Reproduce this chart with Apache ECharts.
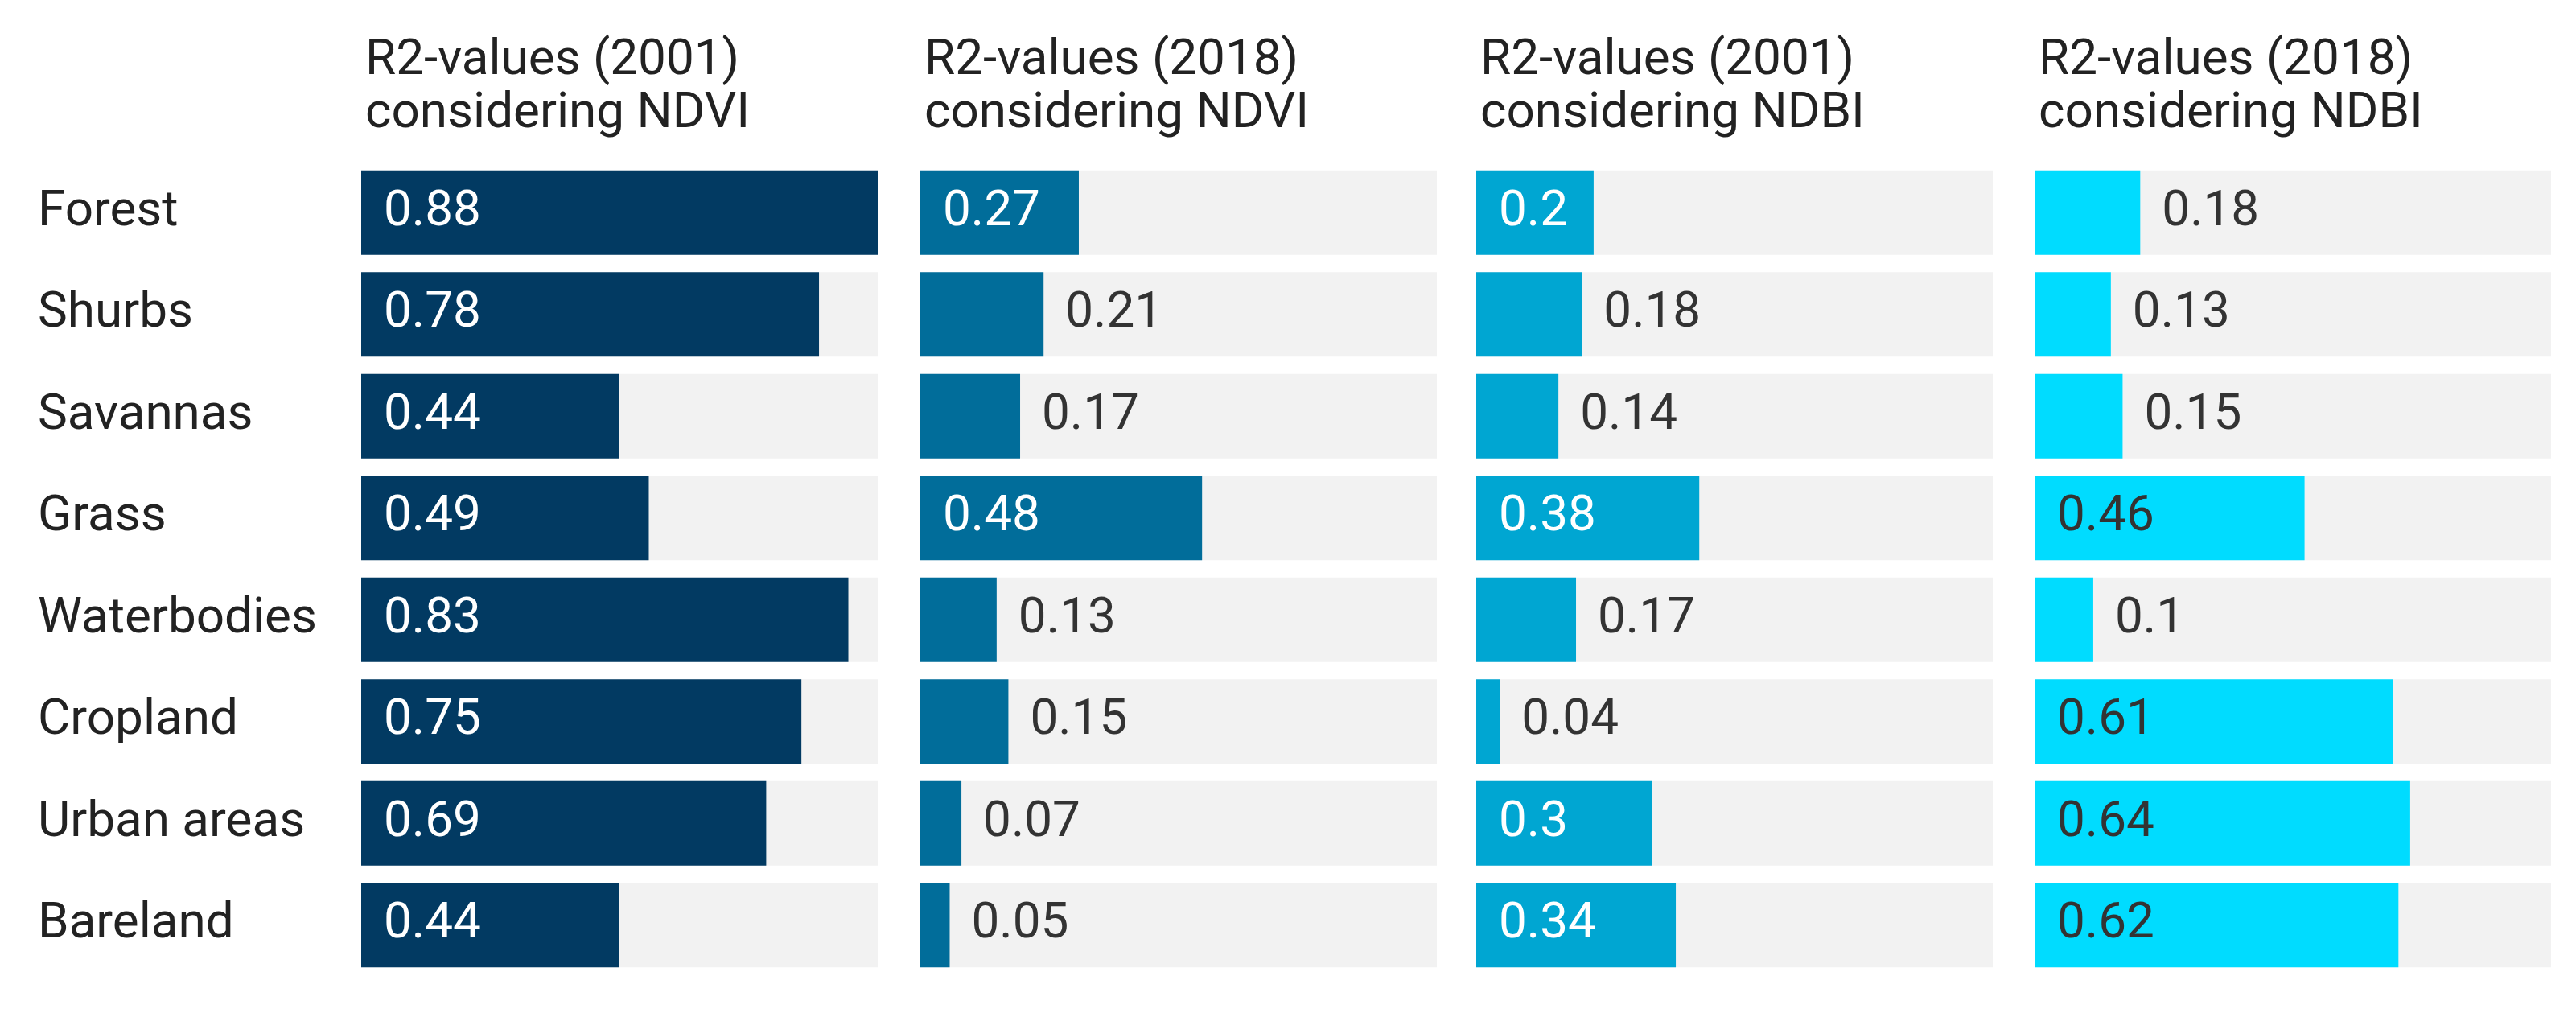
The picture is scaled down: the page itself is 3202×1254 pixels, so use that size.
<!DOCTYPE html>
<html>
<head>
<meta charset="utf-8">
<script src="https://cdn.jsdelivr.net/npm/echarts@6/dist/echarts.min.js"></script>
<style>
html,body{margin:0;padding:0;background:#fff;}
#chart{width:3202px;height:1254px;}
</style>
</head>
<body>
<div id="chart"></div>
<script>
const categories = ['Forest','Shurbs','Savannas','Grass','Waterbodies','Cropland','Urban areas','Bareland'];
const panelTitles = [
  'R2-values (2001)\nconsidering NDVI',
  'R2-values (2018)\nconsidering NDVI',
  'R2-values (2001)\nconsidering NDBI',
  'R2-values (2018)\nconsidering NDBI'
];
const ndvi2001 = [0.88,0.78,0.44,0.49,0.83,0.75,0.69,0.44];
const ndvi2018 = [0.27,0.21,0.17,0.48,0.13,0.15,0.07,0.05];
const ndbi2001 = [0.2,0.18,0.14,0.38,0.17,0.04,0.3,0.34];
const ndbi2018 = [0.18,0.13,0.15,0.46,0.1,0.61,0.64,0.62];
const seriesData = [ndvi2001, ndvi2018, ndbi2001, ndbi2018];

const colors = ['#023a62','#016d9a','#00a6d2','#00dcff'];
const insideColors = ['#ffffff','#ffffff','#ffffff','#333333'];
const panelLeft = [449, 1144, 1835, 2529];
const panelWidth = 642;
const gridTop = 201, gridHeight = 1012;
const FONT = 'Roboto, "Noto Sans", sans-serif';
const FS = 62;
const PAD = 28;

const maxVal = Math.max(...seriesData.flat());

const ctx = document.createElement('canvas').getContext('2d');
ctx.font = FS + 'px Roboto';
function tw(s){ return ctx.measureText(s).width; }

const option = {
  animation: false,
  backgroundColor: '#ffffff',
  title: panelTitles.map((t,i)=>({
    text: t, left: panelLeft[i], top: 38,
    textStyle: {fontFamily: FONT, fontSize: FS, fontWeight: 'normal', color: '#222', lineHeight: 66}
  })),
  grid: panelLeft.map(l=>({left: l, width: panelWidth, top: gridTop, height: gridHeight, containLabel: false})),
  xAxis: panelLeft.map((l,i)=>({
    type:'value', gridIndex:i, min:0, max:maxVal, show:false
  })),
  yAxis: panelLeft.map((l,i)=>({
    type:'category', gridIndex:i, data: categories, inverse:true,
    axisLine:{show:false}, axisTick:{show:false}, splitLine:{show:false},
    axisLabel:{show: i===0, align:'left', margin: 402, fontFamily: FONT, fontSize: FS, color:'#222'}
  })),
  series: seriesData.map((arr,i)=>({
    type:'bar', xAxisIndex:i, yAxisIndex:i,
    barCategoryGap:'17%',
    showBackground:true,
    backgroundStyle:{color:'#f2f2f2'},
    itemStyle:{color:colors[i]},
    data: arr.map(v=>{
      const s = String(v);
      const px = v / maxVal * panelWidth;
      const inside = px >= tw(s) + 2*PAD;
      return {
        value: v,
        label: {
          show: true,
          position: inside ? 'insideLeft' : 'right',
          distance: inside ? PAD : 27,
          color: inside ? insideColors[i] : '#333',
          fontFamily: FONT, fontSize: FS,
          formatter: s
        }
      };
    })
  }))
};

const chart = echarts.init(document.getElementById('chart'), null, {renderer:'canvas'});
chart.setOption(option);
</script>
</body>
</html>
